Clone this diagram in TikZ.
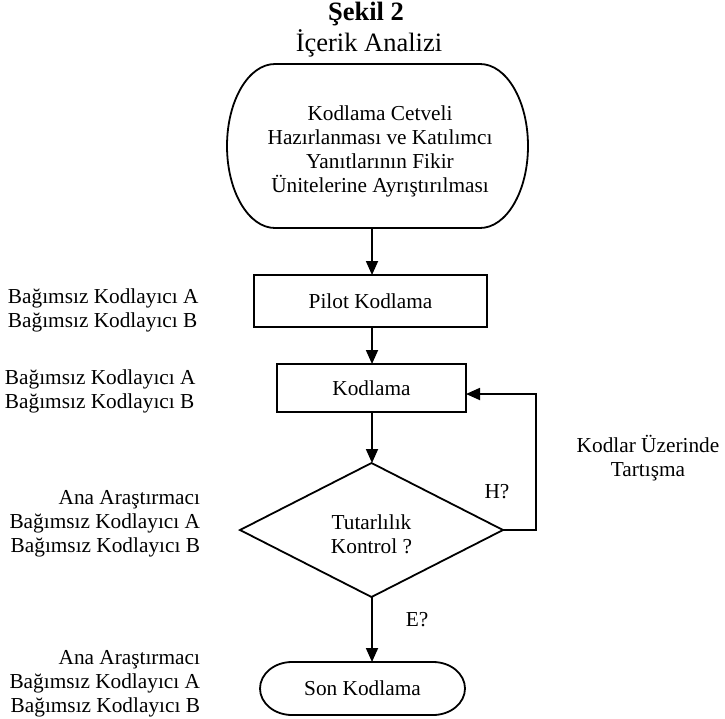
\documentclass[tikz,border=0pt]{standalone}
\usepackage{fontspec}
\setmainfont{Liberation Serif}
\usetikzlibrary{shapes.geometric,arrows.meta,calc}

% outline of a terminator: node name, x radius, y radius
\newcommand{\termline}[3]{%
\draw ([xshift=#2]#1.north west) -- ([xshift=-#2]#1.north east)
  arc[start angle=90,end angle=-90,x radius=#2,y radius=#3]
  -- ([xshift=#2]#1.south west)
  arc[start angle=270,end angle=90,x radius=#2,y radius=#3] -- cycle;}

\begin{document}
\begin{tikzpicture}[x=1pt,y=-1pt,line width=1.8pt]
\path [use as bounding box] (0,0) rectangle (725,718);
\tikzstyle{every node} = [inner sep=0pt, outer sep=0pt, font=\fontsize{21.3}{24}\selectfont]
\tikzstyle{box} = [draw, rectangle]
\tikzstyle{term} = [align=center]
\tikzstyle{flow} = [-{Triangle[length=14pt,width=12pt]}]
% title
\node (sekil) at (366,14) {\fontsize{26.5}{28}\selectfont\bfseries Şekil 2};
\node (baslik) at (369,43) {\fontsize{26.5}{28}\selectfont İçerik Analizi};
% main column
\coordinate (eksen) at (372,0);
\node[term, minimum width=301pt, minimum height=164pt] (cetvel) at (377.5,146) {};
\node[term] (cetveltext) at (380,151)
  {Kodlama Cetveli\\Hazırlanması ve Katılımcı\\Yanıtlarının Fikir\\Ünitelerine Ayrıştırılması};
\termline{cetvel}{48pt}{82pt}
\node[box, minimum width=233pt, minimum height=52pt] (pilot) at (370.5,301) {Pilot Kodlama};
\node[box, minimum width=189pt, minimum height=48pt] (kodlama) at (371.5,388) {Kodlama};
\node[draw, diamond, minimum width=263pt, minimum height=134pt] (kontrol) at (371.5,530) {};
\node[align=center] (soru) at (371.5,534) {Tutarlılık\\Kontrol ?};
\node[term, minimum width=205pt, minimum height=53pt] (son) at (362.5,688.5) {Son Kodlama};
\termline{son}{32pt}{26.5pt}
% arrows
\draw[flow] (eksen |- cetvel.south) -- (eksen |- pilot.north);
\draw[flow] (eksen |- pilot.south) -- (eksen |- kodlama.north);
\draw[flow] (eksen |- kodlama.south) -- (eksen |- kontrol.north);
\draw[flow] (eksen |- kontrol.south) -- (eksen |- son.north);
\coordinate (donus) at (536,394);
\draw[flow] (kontrol.east) -| (donus) -- (kodlama.east |- donus);
\node (hayir) at (497,492) {H?};
\node (evet) at (417,620) {E?};
\node[align=center] (tartisma) at (648,458) {Kodlar Üzerinde\\Tartışma};
% who codes
\node[anchor=west, align=left] (kisi1) at (8,310) {Bağımsız Kodlayıcı A\\Bağımsız Kodlayıcı B};
\node[anchor=west, align=left] (kisi2) at (5,391) {Bağımsız Kodlayıcı A\\Bağımsız Kodlayıcı B};
\node[anchor=east, align=right] (kisi3) at (200,524) {Ana Araştırmacı\\Bağımsız Kodlayıcı A\\Bağımsız Kodlayıcı B};
\node[anchor=east, align=right] (kisi4) at (200,684) {Ana Araştırmacı\\Bağımsız Kodlayıcı A\\Bağımsız Kodlayıcı B};
\end{tikzpicture}
\end{document}
